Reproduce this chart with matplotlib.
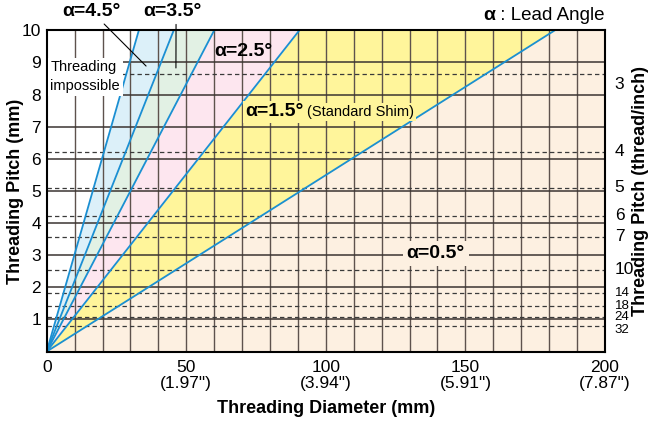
import numpy as np
import matplotlib.pyplot as plt
from matplotlib.transforms import blended_transform_factory, offset_copy

plt.rcParams['font.family'] = ['Liberation Sans', 'DejaVu Sans']

# lead angle lines, given by the diameter (mm) where each reaches 10 mm pitch
alpha = [0.5, 1.5, 2.5, 3.5, 4.5]
dia_at_10 = [182, 90.5, 60, 45.5, 33]
band_colors = ['#fdf0e1', '#fff59b', '#fde6ef', '#e2f1e4', '#dcf0f9']

x_ticks = [0, 50, 100, 150, 200]
x_tick_labels = ['0', '50\n(1.97")', '100\n(3.94")', '150\n(5.91")', '200\n(7.87")']
y_ticks = [1, 2, 3, 4, 5, 6, 7, 8, 9, 10]
# threads per inch and the pitch (mm) where their dashed lines sit
tpi = [3, 4, 5, 6, 7, 10, 14, 18, 24, 32]
tpi_pitch = [8.63, 6.22, 5.10, 4.23, 3.57, 2.54, 1.81, 1.42, 1.06, 0.79]

blue = '#1b8fd2'

fig = plt.figure(figsize=(6.54, 4.22), dpi=100)
ax = fig.add_axes([0.0714, 0.167, 0.8536, 0.761])
ax.set_xlim(0, 200)
ax.set_ylim(0, 10)

# coloured bands between the lines
yy = np.array([0.0, 10.0])
for i, d in enumerate(dia_at_10):
    x1 = yy / 10 * d
    if i == 0:
        x2 = np.array([200.0, 200.0])
    else:
        x2 = yy / 10 * dia_at_10[i - 1]
    ax.fill_betweenx(yy, x1, x2, color=band_colors[i], lw=0, zorder=1)

# grid
for x in range(10, 200, 10):
    ax.axvline(x, color='#5e524d', lw=1.0, zorder=2)
for y in range(1, 10):
    ax.axhline(y, color='#3b3431', lw=1.1, zorder=2)
for p in tpi_pitch:
    ax.axhline(p, color='#3a3a3a', lw=0.9, ls=(0, (3.5, 2.5)), zorder=2)

for d in dia_at_10:
    ax.plot([0, d], [0, 10], color=blue, lw=1.3, zorder=4)

for s in ax.spines.values():
    s.set_linewidth(1.5)
    s.set_zorder(6)

ax.set_xticks(x_ticks)
ax.set_xticklabels(x_tick_labels, fontsize=12.5, linespacing=1.1)
ax.set_yticks(y_ticks)
ax.tick_params(axis='y', labelsize=12.5, length=0, pad=4)
ax.tick_params(axis='x', length=0, pad=6)
ax.set_xlabel('Threading Diameter (mm)', fontsize=13, fontweight='bold')
ax.set_ylabel('Threading Pitch (mm)', fontsize=13, fontweight='bold')
ax.xaxis.set_label_coords(0.5, -0.152)
ax.yaxis.set_label_coords(-0.041, 0.5)

# right hand thread/inch scale
trans = blended_transform_factory(ax.transAxes, ax.transData)
for i, (t, p) in enumerate(zip(tpi, tpi_pitch)):
    small = i >= 6
    dy = 0
    if t == 3:
        dy = -7
    elif t == 32:
        dy = -3
    ax.text(1.0, p, str(t), transform=offset_copy(trans, fig=fig, x=7, y=dy, units='points'),
            ha='left', va='center', fontsize=9.5 if small else 12.5, clip_on=False)
ax.text(1.064, 0.5, 'Threading Pitch (thread/inch)', transform=ax.transAxes, rotation=90,
        ha='center', va='center', fontsize=13, fontweight='bold')

# labels
lbl = dict(fontsize=14, fontweight='bold', zorder=7)
ax.annotate('α=4.5°', xy=(35.6, 8.89), xytext=(16.2, 10.58), ha='center', va='center',
            annotation_clip=False,
            arrowprops=dict(arrowstyle='-', color='black', lw=0.8, shrinkA=1, shrinkB=0), **lbl)
ax.annotate('α=3.5°', xy=(46.3, 8.83), xytext=(45.1, 10.58), ha='center', va='center',
            annotation_clip=False,
            arrowprops=dict(arrowstyle='-', color='black', lw=0.8, shrinkA=1, shrinkB=0,
                            relpos=(0.56, 0.5)), **lbl)
ax.text(70.3, 9.33, 'α=2.5°', ha='center', va='center', **lbl)
ax.text(71.1, 7.46, 'α=1.5°', ha='left', va='center',
        bbox=dict(facecolor=band_colors[1], edgecolor='none', pad=1.5), **lbl)
ax.text(93.3, 7.46, '(Standard Shim)', ha='left', va='center', fontsize=10.5, zorder=7,
        bbox=dict(facecolor=band_colors[1], edgecolor='none', pad=1.5))
ax.text(139.4, 3.05, 'α=0.5°', ha='center', va='center',
        bbox=dict(facecolor=band_colors[0], edgecolor='none', pad=3), **lbl)
ax.text(1.3, 8.55, 'Threading\nimpossible', ha='left', va='center', fontsize=10.5,
        linespacing=1.45, zorder=7, bbox=dict(facecolor='white', edgecolor='none', pad=2))

lead = ax.text(200, 10.46, ' : Lead Angle', ha='right', va='center', fontsize=13.5)
ax.annotate('α', xy=(0, 0.5), xycoords=lead, ha='right', va='center',
            fontsize=14, fontweight='bold')

fig.savefig('out.png', dpi=100)
